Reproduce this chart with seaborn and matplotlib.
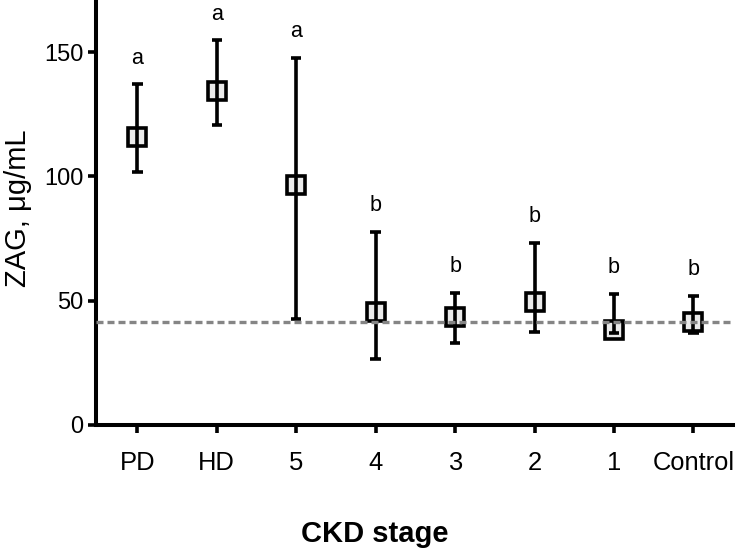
import pandas as pd
import matplotlib.pyplot as plt
import seaborn as sns

# Summary values (ZAG, ug/mL)
stages = ["PD", "HD", "5", "4", "3", "2", "1", "Control"]
means = [115.9, 134.4, 96.7, 45.5, 43.4, 49.5, 38.1, 41.4]
lower = [101.6, 120.6, 42.5, 26.7, 33.0, 37.4, 37.0, 37.0]
upper = [137.0, 154.7, 147.7, 77.5, 53.2, 73.1, 52.8, 51.9]
letters = ["a", "a", "a", "b", "b", "b", "b", "b"]
control_level = 41.5

# long form: median of (lower, mean, upper) = mean, 100% interval = lower..upper
rows = []
for s, lo, m, hi in zip(stages, lower, means, upper):
    for v in (lo, m, hi):
        rows.append({"stage": s, "zag": v})
df = pd.DataFrame(rows)

sns.set_style("ticks")
plt.rcParams["font.family"] = ["Liberation Sans", "DejaVu Sans"]
plt.rcParams["text.color"] = "black"
plt.rcParams["axes.labelcolor"] = "black"
plt.rcParams["xtick.color"] = "black"
plt.rcParams["ytick.color"] = "black"
plt.rcParams["axes.edgecolor"] = "black"

fig = plt.figure(figsize=(7.39, 5.51), dpi=100)
ax = fig.add_axes([0.130, 0.2287, 0.862, 0.767])

sns.pointplot(data=df, x="stage", y="zag", order=stages,
              estimator="median", errorbar=("pi", 100),
              linestyle="none", marker="s", color="black",
              markersize=12.5, markerfacecolor="#ebebeb", markeredgewidth=2.6,
              capsize=0.13, err_kws={"linewidth": 2.6}, ax=ax)

# error bars over the markers, like the original
for ln in ax.lines:
    if ln.get_marker() in (None, "None", "", " "):
        ln.set_zorder(4)
        ln.set_linewidth(2.6)
        ln.set_solid_capstyle("butt")
    else:
        ln.set_zorder(3)

ax.axhline(control_level, color="#858585", linestyle=(0, (2.1, 1.2)),
           linewidth=2.4, zorder=5)

for i, (hi, lt) in enumerate(zip(upper, letters)):
    ax.annotate(lt, (i, hi), xytext=(0, 19), textcoords="offset points",
                ha="center", va="center", fontsize=15.5)

ax.set_xlim(-0.52, 7.5)
ax.set_ylim(0, 170)
ax.set_yticks([0, 50, 100, 150])
sns.despine(ax=ax)
for sp in ("left", "bottom"):
    ax.spines[sp].set_linewidth(2.9)
ax.tick_params(axis="both", direction="out", length=6, width=2.6)
ax.tick_params(axis="y", labelsize=17, pad=3)
ax.tick_params(axis="x", labelsize=18.4, pad=13)

ax.set_ylabel("")
ax.set_xlabel("")
fig.text(18 / 739, 1 - 208.5 / 551, "ZAG, \u03bcg/mL", fontsize=21,
         rotation=90, ha="center", va="center")
fig.text(375 / 739, 1 - 542 / 551, "CKD stage", fontsize=21, fontweight="bold",
         ha="center", va="baseline")

plt.savefig("out.png", dpi=100)
